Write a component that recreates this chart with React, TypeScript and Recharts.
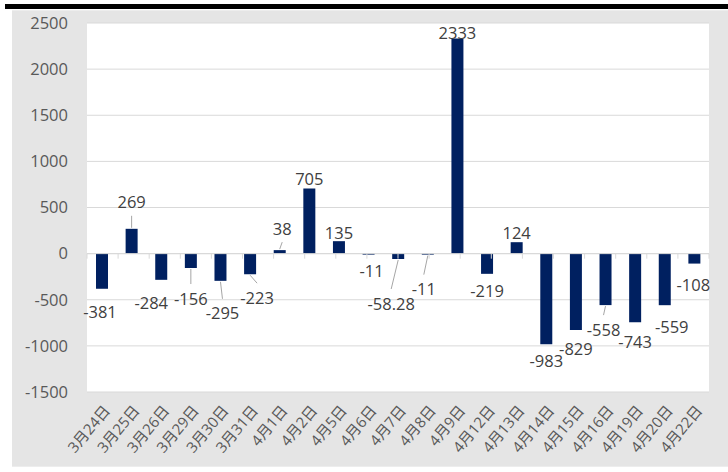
import React from 'react';
import { BarChart, Bar, XAxis, YAxis, CartesianGrid, ReferenceLine, LabelList } from 'recharts';

const dates = [
  '3月24日', '3月25日', '3月26日', '3月29日', '3月30日', '3月31日', '4月1日',
  '4月2日', '4月5日', '4月6日', '4月7日', '4月8日', '4月9日', '4月12日',
  '4月13日', '4月14日', '4月15日', '4月16日', '4月19日', '4月20日', '4月22日',
];
const values = [
  -381, 269, -284, -156, -295, -223, 38, 705, 135, -11, -58.28, -11, 2333, -219,
  124, -983, -829, -558, -743, -559, -108,
];
const yTicks = [-1500, -1000, -500, 0, 500, 1000, 1500, 2000, 2500];

// hand-moved labels in the original: [dx, dy] from the default spot, and leader lines
const labelNudge: [number, number][] = [
  [-2, 4], [0, -17], [-10, 4], [0, 11], [2, 13], [7, 4], [2.5, -12],
  [0, 0], [0, 1], [3, -3], [-7, 25], [-4, 15], [0, 4], [0, -2],
  [0, 0], [0, -3], [0, -1], [-2, 5], [0, 0], [7, 2], [-1, 2],
];
const hasLeader = [
  false, true, false, true, true, true, true, false, false, false, true, true, false, false,
  false, false, false, true, false, false, false,
];

const FONT = '"Open Sans", "Noto Sans CJK SC", sans-serif';

const data = dates.map((d, i) => ({ date: d, value: values[i] }));
const boundaries = dates.map((_, i) => i).concat(dates.length);

const DateTick = (props: any) => {
  const { x, y, payload } = props;
  const tx = x + 9;
  const ty = y + 19;
  return (
    <text
      x={tx}
      y={ty}
      transform={`rotate(-50, ${tx}, ${ty})`}
      textAnchor="end"
      fill="#595959"
      fontSize={15}
      fontFamily={FONT}
    >
      {payload.value}
    </text>
  );
};

const ValueLabel = (props: any) => {
  const vb = props.viewBox || {};
  const x = Number(props.x ?? vb.x);
  const y = Number(props.y ?? vb.y);
  const w = Number(props.width ?? vb.width);
  const h = Number(props.height ?? vb.height);
  const i = props.index;
  const v = values[i];
  const cx = x + w / 2;
  const end = v >= 0 ? Math.min(y, y + h) : Math.max(y, y + h);
  const [dx, dy] = labelNudge[i];
  const lx = cx + dx;
  const ly = (v >= 0 ? end - 10 : end + 19) + dy;
  return (
    <g>
      {hasLeader[i] && (
        <line
          x1={cx}
          y1={v >= 0 ? end - 1 : end + 1}
          x2={lx}
          y2={v >= 0 ? ly + 14 : ly - 14}
          stroke="#a6a6a6"
          strokeWidth={1}
        />
      )}
      <text
        x={lx}
        y={ly}
        textAnchor="middle"
        dominantBaseline="central"
        fill="#404040"
        fontSize={16.5}
        fontFamily={FONT}
      >
        {String(v)}
      </text>
    </g>
  );
};

export default function App() {
  return (
    <div style={{ position: 'relative', width: 728, height: 472, background: '#fff' }}>
      <style>{'body{margin:0}'}</style>
      <div style={{ position: 'absolute', left: 5, top: 4, width: 723, height: 5, background: '#000' }} />
      <div
        style={{
          position: 'absolute',
          left: 12,
          top: 10,
          width: 716,
          height: 457,
          background: '#e5e5e5',
          boxSizing: 'border-box',
          borderTop: '1px solid #ededed',
          borderBottom: '1px solid #ededed',
        }}
      />
      <div style={{ position: 'absolute', left: 0, top: 0 }}>
        <BarChart
          width={728}
          height={472}
          data={data}
          margin={{ top: 23, right: 19, bottom: 0, left: 0 }}
        >
          <CartesianGrid vertical={false} stroke="#d9d9d9" fill="#fff" />
          <XAxis
            dataKey="date"
            interval={0}
            height={80}
            tickLine={false}
            axisLine={false}
            tickSize={0}
            tickMargin={0}
            tick={<DateTick />}
          />
          <XAxis xAxisId="b" type="number" domain={[0, dates.length]} hide allowDataOverflow />
          <YAxis
            width={87}
            domain={[-1500, 2500]}
            ticks={yTicks}
            interval={0}
            allowDataOverflow
            tickLine={false}
            axisLine={false}
            tickSize={0}
            tickMargin={19}
            tick={{ fill: '#595959', fontSize: 16.5, fontFamily: FONT }}
          />
          <ReferenceLine y={0} stroke="#d9d9d9" />
          {boundaries.map((k) => (
            <ReferenceLine
              key={k}
              xAxisId="b"
              segment={[{ x: k, y: 0 }, { x: k, y: -55 }]}
              stroke="#d9d9d9"
            />
          ))}
          <Bar dataKey="value" fill="#002060" barSize={12} isAnimationActive={false}>
            <LabelList dataKey="value" content={<ValueLabel />} />
          </Bar>
        </BarChart>
      </div>
    </div>
  );
}
